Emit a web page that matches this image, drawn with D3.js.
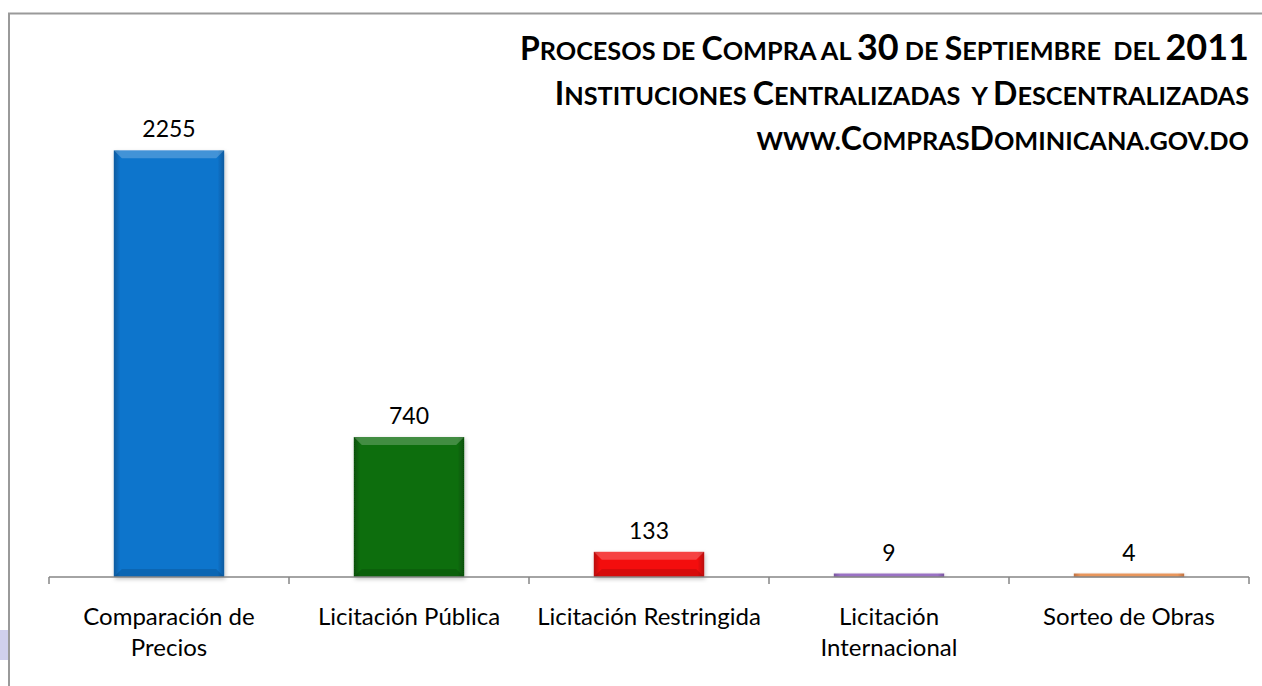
<!DOCTYPE html>
<html><head><meta charset="utf-8">
<script src="https://cdn.jsdelivr.net/npm/d3@7"></script>
<style>body{margin:0;background:#fff}svg{display:block}</style>
</head><body>
<script>
const categories = [["Comparación de","Precios"],["Licitación Pública"],["Licitación Restringida"],["Licitación","Internacional"],["Sorteo de Obras"]];
const values = [2255, 740, 133, 9, 4];
const colors = ["#0b74cc","#0b6e0b","#f40f0f","#9a72c4","#e8965c"];
const edgeColors = ["#075a9e","#064f06","#b80a0a","#7a55a0","#c07040"];
const titleLines = [
  "Procesos de Compra al 30 de Septiembre  del 2011",
  "Instituciones Centralizadas  y Descentralizadas",
  "www.ComprasDominicana.gov.do"
];

const W=1262,H=686;
const svg=d3.select("body").append("svg").attr("width",W).attr("height",H);
const defs=svg.append("defs");
const f=defs.append("filter").attr("id","sh").attr("x","-20%").attr("y","-20%").attr("width","140%").attr("height","140%");
f.append("feDropShadow").attr("dx",1).attr("dy",2).attr("stdDeviation",2).attr("flood-color","#000").attr("flood-opacity",0.25);

// outer border
svg.append("rect").attr("x",9).attr("y",13.5).attr("width",1262).attr("height",700).attr("fill","none").attr("stroke","#9a9a9a").attr("stroke-width",2);
// lavender tab
svg.append("rect").attr("x",0).attr("y",630).attr("width",8).attr("height",30).attr("fill","#d0d0ec");

const x=d3.scaleBand().domain(d3.range(values.length)).range([49,1249]).paddingInner(0).paddingOuter(0);
const y=d3.scaleLinear().domain([0,2500]).range([577,104]);
const bw=x.bandwidth()*0.46;
const FONT="Lato, 'Open Sans', sans-serif";

values.forEach((v,i)=>{
  const g=defs.append("linearGradient").attr("id","g"+i).attr("x1",0).attr("x2",1).attr("y1",0).attr("y2",0);
  g.append("stop").attr("offset","0").attr("stop-color",edgeColors[i]);
  g.append("stop").attr("offset","0.06").attr("stop-color",colors[i]);
  g.append("stop").attr("offset","0.94").attr("stop-color",colors[i]);
  g.append("stop").attr("offset","1").attr("stop-color",edgeColors[i]);
});

const bars=svg.append("g");
values.forEach((v,i)=>{
  const cx=x(i)+x.bandwidth()/2, x0=cx-bw/2, top=y(v), h=Math.max(y(0)-top,3.5);
  const t=y(0)-h;
  const gg=bars.append("g");
  gg.append("rect").attr("x",x0).attr("y",t).attr("width",bw).attr("height",h).attr("fill","url(#g"+i+")").attr("filter","url(#sh)");
  if(h>12){
    const b=Math.min(8,h/3);
    gg.append("path").attr("d",`M${x0},${t}L${x0+bw},${t}L${x0+bw-b},${t+b}L${x0+b},${t+b}Z`).attr("fill","#fff").attr("opacity",0.22);
    gg.append("path").attr("d",`M${x0},${t+h}L${x0+bw},${t+h}L${x0+bw-b},${t+h-b}L${x0+b},${t+h-b}Z`).attr("fill","#000").attr("opacity",0.12);
  }
  svg.append("text").attr("x",cx).attr("y",t-13).attr("text-anchor","middle")
    .attr("font-family",FONT).attr("font-size",23).attr("fill","#000").text(v);
});

// axis
const ax=svg.append("g").attr("transform","translate(0,577)");
ax.append("line").attr("x1",49).attr("x2",1249).attr("stroke","#868686").attr("stroke-width",1.5);
d3.range(values.length+1).forEach(k=>{
  const xx=k<values.length?x(k):x(values.length-1)+x.bandwidth();
  ax.append("line").attr("x1",xx).attr("x2",xx).attr("y1",0).attr("y2",7).attr("stroke","#868686").attr("stroke-width",1.5);
});
categories.forEach((lines,i)=>{
  const cx=x(i)+x.bandwidth()/2;
  const t=svg.append("text").attr("text-anchor","middle").attr("font-family",FONT).attr("font-size",24).attr("fill","#000");
  lines.forEach((l,j)=>t.append("tspan").attr("x",cx).attr("y",625+j*31).text(l));
});

// title with manual small caps
const ty=[60,105,150];
const CAP=32, SMALL=CAP*0.79, DIG=36;
titleLines.forEach((line,i)=>{
  const t=svg.append("text").attr("x",1249).attr("y",ty[i]).attr("text-anchor","end")
    .attr("font-family","Lato, sans-serif").attr("font-weight","bold")
    .attr("fill","#000").attr("xml:space","preserve").style("white-space","pre");
  // split into runs by class
  const runs=[];
  for(const ch of line){
    let c = /[0-9]/.test(ch)?"d":(ch!==ch.toUpperCase()?"s":(ch===" "||ch==="."?"s":"c"));
    if(runs.length && runs[runs.length-1].c===c) runs[runs.length-1].s+=ch; else runs.push({c,s:ch});
  }
  runs.forEach(r=>t.append("tspan").attr("font-size",r.c==="d"?DIG:(r.c==="c"?CAP:SMALL)).text(r.s.toUpperCase()));
});
</script>
</body></html>
